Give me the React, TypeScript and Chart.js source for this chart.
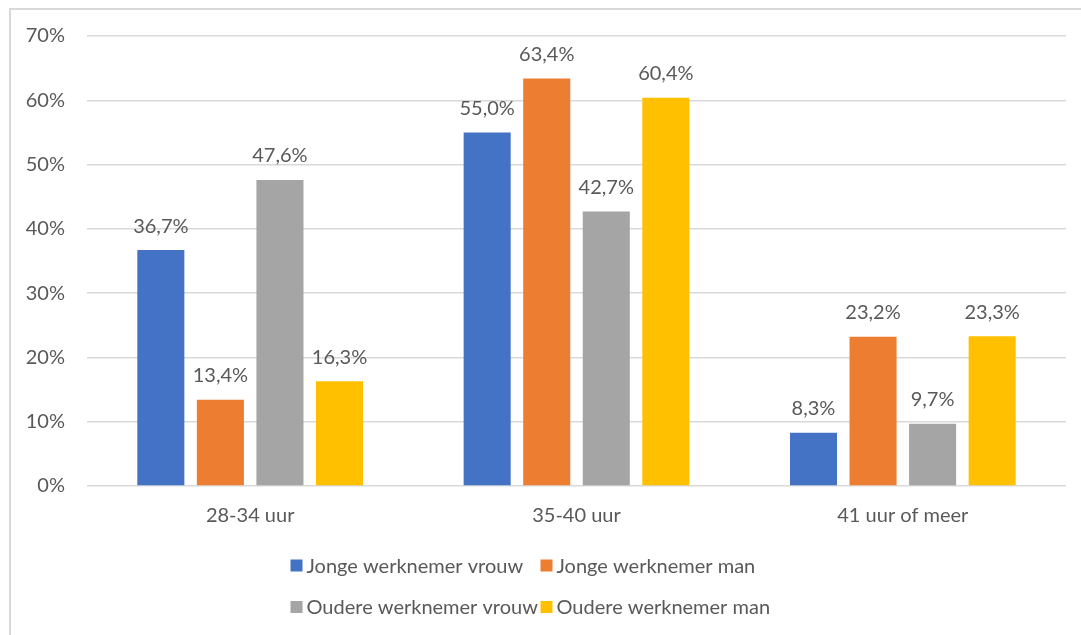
import React, { useEffect, useRef } from "react";
import { Chart, registerables } from "chart.js";

Chart.register(...registerables);

const categories = ["28-34 uur", "35-40 uur", "41 uur of meer"];
const seriesNames = [
  "Jonge werknemer vrouw",
  "Jonge werknemer man",
  "Oudere werknemer vrouw",
  "Oudere werknemer man",
];
const jongeVrouw = [36.7, 55.0, 8.3];
const jongeMan = [13.4, 63.4, 23.2];
const oudereVrouw = [47.6, 42.7, 9.7];
const oudereMan = [16.3, 60.4, 23.3];
const seriesColors = ["#4472C4", "#ED7D31", "#A5A5A5", "#FFC000"];
const yTicks = [0, 10, 20, 30, 40, 50, 60, 70];

const TEXT = "#595959";
const FONT = "Lato";

const fmt = (v: number) => v.toFixed(1).replace(".", ",") + "%";

const dataLabelPlugin = {
  id: "dataLabels",
  afterDatasetsDraw(chart: any) {
    const ctx = chart.ctx;
    ctx.save();
    ctx.font = `20px ${FONT}`;
    ctx.fillStyle = TEXT;
    ctx.textAlign = "center";
    ctx.textBaseline = "middle";
    chart.data.datasets.forEach((ds: any, i: number) => {
      const meta = chart.getDatasetMeta(i);
      meta.data.forEach((el: any, j: number) => {
        ctx.fillText(fmt(ds.data[j]), el.x, el.y - 24);
      });
    });
    ctx.restore();
  },
};

const legendPlugin = {
  id: "customLegend",
  afterDraw(chart: any) {
    const ctx = chart.ctx;
    const center = chart.width / 2;
    const colW = 250;
    const rows = [chart.chartArea.bottom + 79.5, chart.chartArea.bottom + 121];
    ctx.save();
    ctx.font = `20px ${FONT}`;
    ctx.textAlign = "left";
    ctx.textBaseline = "middle";
    chart.data.datasets.forEach((ds: any, i: number) => {
      const col = i % 2;
      const row = Math.floor(i / 2);
      const x = center - colW + col * colW;
      const y = rows[row];
      ctx.fillStyle = ds.backgroundColor;
      ctx.fillRect(x, y - 6, 12, 12);
      ctx.fillStyle = TEXT;
      ctx.fillText(ds.label, x + 16, y + 1);
    });
    ctx.restore();
  },
};

export default function App() {
  const ref = useRef<HTMLCanvasElement | null>(null);
  useEffect(() => {
    if (!ref.current) return;
    const seriesData = [jongeVrouw, jongeMan, oudereVrouw, oudereMan];
    const chart = new Chart(ref.current, {
      type: "bar",
      data: {
        labels: categories,
        datasets: seriesNames.map((name, i) => ({
          label: name,
          data: seriesData[i],
          backgroundColor: seriesColors[i],
          borderWidth: 0,
          categoryPercentage: 0.73,
          barPercentage: 0.79,
        })),
      },
      options: {
        responsive: false,
        animation: false,
        layout: { padding: { top: 36, left: 0, right: 15, bottom: 0 } },
        plugins: {
          legend: { display: false },
          tooltip: { enabled: false },
        },
        scales: {
          x: {
            grid: { display: false, drawTicks: false },
            border: { display: false },
            ticks: {
              color: TEXT,
              font: { family: FONT, size: 20 },
              padding: 18,
            },
            afterFit: (s: any) => {
              s.height = 149;
            },
          },
          y: {
            min: 0,
            max: 70,
            afterBuildTicks: (s: any) => {
              s.ticks = yTicks.map((v) => ({ value: v }));
            },
            grid: { color: "#d9d9d9", lineWidth: 1.5, drawTicks: false },
            border: { display: false },
            ticks: {
              color: TEXT,
              font: { family: FONT, size: 20 },
              padding: 22,
              callback: (v: any) => v + "%",
            },
            afterFit: (s: any) => {
              s.width = 87;
            },
          },
        },
      },
      plugins: [dataLabelPlugin, legendPlugin],
    });
    return () => chart.destroy();
  }, []);

  return (
    <div
      style={{
        position: "fixed",
        left: 0,
        top: 0,
        width: 1081,
        height: 635,
        overflow: "hidden",
        background: "#fff",
      }}
    >
      <div
        style={{
          position: "absolute",
          left: 9,
          top: 8,
          width: 1200,
          height: 800,
          border: "2px solid #d9d9d9",
        }}
      />
      <canvas
        ref={ref}
        width={1081}
        height={635}
        style={{ position: "absolute", left: 0, top: 0 }}
      />
    </div>
  );
}
